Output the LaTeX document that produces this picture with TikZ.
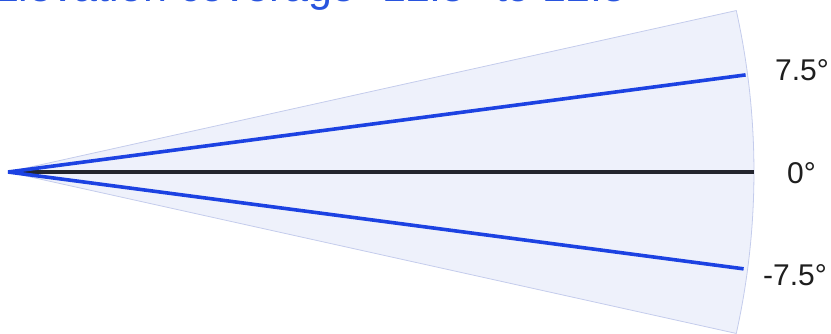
\documentclass[tikz,border=0pt]{standalone}
\usepackage{fontspec}
\setmainfont{Liberation Sans}
\usetikzlibrary{calc}
\definecolor{fanfill}{RGB}{238,241,251}
\definecolor{fanedge}{RGB}{196,204,236}
\definecolor{rayblue}{RGB}{28,66,226}
\definecolor{titleblue}{RGB}{40,84,222}
\definecolor{axisdark}{RGB}{35,37,45}
\definecolor{labelgray}{RGB}{30,30,30}
\tikzset{
  ray/.style={line width=3.6pt, rayblue},
  axisline/.style={line width=3.6pt, axisdark},
  anglabel/.style={inner sep=0pt, anchor=base west, font=\fontsize{30}{36}\selectfont, text=labelgray},
}
\begin{document}
\begin{tikzpicture}[x=1pt,y=1pt]
\useasboundingbox (0,0) rectangle (831,333);
\coordinate (O) at (8,161);
% fan
\path (O) ++(12.5:746) coordinate (FT);
\path (O) ++(-12.5:746) coordinate (FB);
\filldraw[fill=fanfill, draw=fanedge, line width=0.8pt, line join=round]
  (O) -- (FT) arc[start angle=12.5, end angle=-12.5, radius=746pt] -- cycle;
% rays
\path (O) ++(7.5:744) coordinate (RU);
\path (O) ++(-7.5:742) coordinate (RD);
\path (O) ++(0:746) coordinate (RC);
\draw[axisline] (O) -- (RC);
\draw[ray] (O) -- (RU);
\draw[ray] (O) -- (RD);
% labels
\node[anglabel] (L1) at (775,253) {7.5°};
\node[anglabel] (L0) at (787,150) {0°};
\node[anglabel] (L2) at (763,48) {-7.5°};
% clipped title
\node[inner sep=0pt, anchor=base east, font=\fontsize{43}{50}\selectfont, text=titleblue] (T) at (644,331) {Elevation coverage -12.5° to 12.5°};
\end{tikzpicture}
\end{document}
